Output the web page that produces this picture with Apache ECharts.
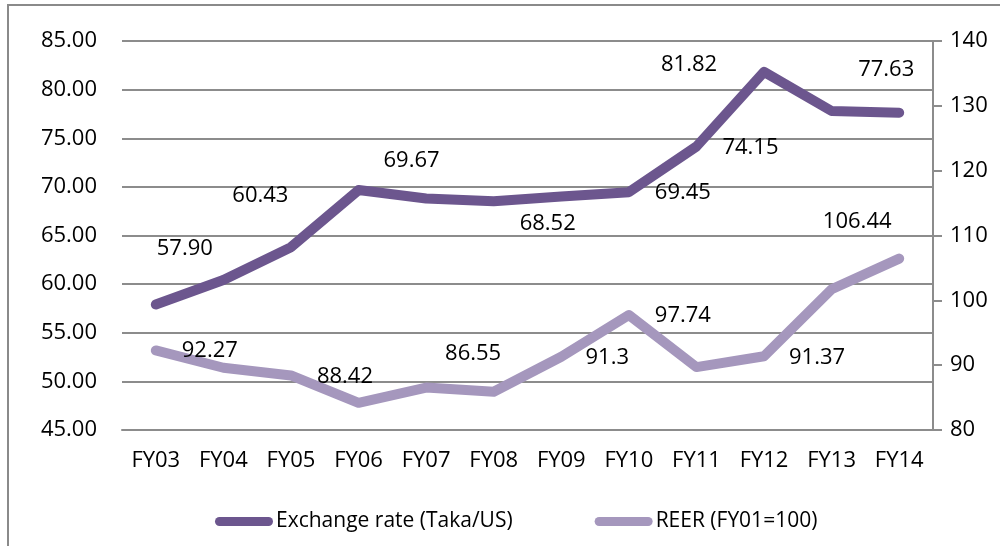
<!DOCTYPE html>
<html>
<head>
<meta charset="utf-8">
<script src="https://cdn.jsdelivr.net/npm/echarts@6/dist/echarts.min.js"></script>
<style>
  html, body { margin: 0; padding: 0; background: #fff; }
  #chart { width: 1000px; height: 546px; }
</style>
</head>
<body>
<div id="chart"></div>
<script>
// data
const categories = ['FY03', 'FY04', 'FY05', 'FY06', 'FY07', 'FY08', 'FY09', 'FY10', 'FY11', 'FY12', 'FY13', 'FY14'];
const exchangeRate = [57.90, 60.43, 63.8, 69.67, 68.8, 68.52, 69.0, 69.45, 74.15, 81.82, 77.8, 77.63];
const reer = [92.27, 89.6, 88.42, 84.2, 86.55, 85.9, 91.3, 97.74, 89.7, 91.37, 101.7, 106.44];
const leftAxis = { min: 45, max: 85, interval: 5 };
const rightAxis = { min: 80, max: 140, interval: 10 };

// where the hand-placed data labels sit relative to their point
const exLabelOffsets = { 0: [29, -56], 1: [37, -84], 3: [53, -29], 5: [54, 22], 7: [54, 1], 8: [54, 1], 9: [-75, -7], 11: [-13, -43] };
const reerLabelOffsets = { 0: [54, 0], 2: [54, 1], 4: [47, -34], 6: [46, 1], 7: [54, 1], 9: [53, 1], 11: [-42, -37] };

const darkPurple = '#6c568e';
const lightPurple = '#a597bd';
const gridGray = '#8c8c8c';
const font = '"Open Sans", "Noto Sans", sans-serif';
// thick line with round ends, like the excel legend key
const capsule = 'path://M4.5,0 L53.5,0 A4.5,4.5 0 0 1 53.5,9 L4.5,9 A4.5,4.5 0 0 1 4.5,0 Z';

function withLabels(values, offsets, fmt) {
  return values.map(function (v, i) {
    if (offsets[i]) {
      return { value: v, label: { show: true, offset: offsets[i], formatter: fmt(v) } };
    }
    return { value: v };
  });
}

const chart = echarts.init(document.getElementById('chart'), null, { renderer: 'canvas' });
chart.setOption({
  backgroundColor: '#fff',
  animation: false,
  textStyle: { fontFamily: font },
  graphic: [{
    type: 'rect',
    shape: { x: 8, y: 5, width: 1100, height: 700 },
    style: { fill: 'none', stroke: '#8a8a8a', lineWidth: 2 },
    silent: true
  }],
  grid: { left: 122, right: 67, top: 41, bottom: 116 },
  legend: {
    left: 210,
    top: 506,
    itemWidth: 58,
    itemHeight: 9,
    itemGap: 82,
    textStyle: { fontFamily: font, fontSize: 21, color: '#000', padding: [0, 0, 0, -2] },
    data: [
      { name: 'Exchange rate (Taka/US)', icon: capsule },
      { name: 'REER (FY01=100)', icon: capsule }
    ]
  },
  xAxis: {
    type: 'category',
    data: categories,
    boundaryGap: true,
    axisLine: { show: true, lineStyle: { color: gridGray, width: 2 } },
    axisTick: { show: false },
    axisLabel: { color: '#000', fontSize: 22, fontFamily: font, margin: 20 }
  },
  yAxis: [{
    type: 'value',
    min: leftAxis.min,
    max: leftAxis.max,
    interval: leftAxis.interval,
    axisLine: { show: false },
    axisTick: { show: false },
    axisLabel: { color: '#000', fontSize: 22, fontFamily: font, margin: 25,
      formatter: function (v) { return v.toFixed(2); } },
    splitLine: { lineStyle: { color: gridGray, width: 2 } }
  }, {
    type: 'value',
    position: 'right',
    min: rightAxis.min,
    max: rightAxis.max,
    interval: rightAxis.interval,
    axisLine: { show: true, lineStyle: { color: gridGray, width: 2 } },
    axisTick: { show: true, length: 9, lineStyle: { color: gridGray, width: 2 } },
    axisLabel: { color: '#000', fontSize: 22, fontFamily: font, margin: 17 },
    splitLine: { show: false }
  }],
  series: [{
    name: 'Exchange rate (Taka/US)',
    type: 'line',
    yAxisIndex: 0,
    data: withLabels(exchangeRate, exLabelOffsets, function (v) { return v.toFixed(2); }),
    symbol: 'circle',
    symbolSize: 1,
    showSymbol: true,
    itemStyle: { color: darkPurple },
    lineStyle: { color: darkPurple, width: 10, cap: 'round', join: 'round' },
    label: { show: false, position: 'inside', color: '#000', fontSize: 22, fontFamily: font },
    z: 3
  }, {
    name: 'REER (FY01=100)',
    type: 'line',
    yAxisIndex: 1,
    data: withLabels(reer, reerLabelOffsets, function (v) { return String(v); }),
    symbol: 'circle',
    symbolSize: 1,
    showSymbol: true,
    itemStyle: { color: lightPurple },
    lineStyle: { color: lightPurple, width: 10, cap: 'round', join: 'round' },
    label: { show: false, position: 'inside', color: '#000', fontSize: 22, fontFamily: font },
    z: 2
  }]
});
</script>
</body>
</html>
